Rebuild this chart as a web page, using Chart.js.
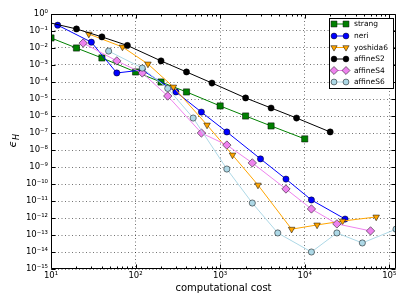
<!DOCTYPE html>
<html><head><meta charset="utf-8">
<script src="https://cdn.jsdelivr.net/npm/chart.js@4/dist/chart.umd.min.js"></script>
<style>html,body{margin:0;padding:0;background:#fff;}#wrap{width:407px;height:305px;}</style>
</head><body><div id="wrap"><canvas id="c" width="407" height="305"></canvas></div>
<script>
// ---- data ----
const strangCost = [10, 20, 40, 100, 200, 400, 1000, 2000, 4000, 10000];
const strangErr  = [3.9e-2, 1.0e-2, 2.6e-3, 3.9e-4, 1.0e-4, 2.6e-5, 3.9e-6, 1.0e-6, 2.6e-7, 4.5e-8];

const neriCost = [12, 30, 60, 120, 300, 600, 1200, 3000, 6000, 12000, 30000];
const neriErr  = [2.2e-1, 2.2e-2, 3.4e-4, 5.1e-4, 2.6e-5, 1.7e-6, 1.15e-7, 3.0e-9, 1.95e-10, 1.15e-11, 8.7e-13];

const yoshidaCost = [28, 70, 140, 280, 700, 1400, 2800, 7000, 14000, 28000, 70000];
const yoshidaErr  = [6.6e-2, 1.15e-2, 1.15e-3, 5.1e-5, 2.95e-7, 5.1e-9, 8.7e-11, 2.2e-13, 3.9e-13, 6.6e-13, 1.15e-12];

const affineS2Cost = [8, 20, 40, 80, 200, 400, 800, 2000, 4000, 8000, 20000];
const affineS2Err  = [3.8e-1, 1.32e-1, 4.5e-2, 1.41e-2, 1.74e-3, 3.9e-4, 8.7e-5, 1.15e-5, 2.95e-6, 7.6e-7, 1.15e-7];

const affineS4Cost = [24, 60, 120, 240, 600, 1200, 2400, 6000, 12000, 24000, 60000];
const affineS4Err  = [1.95e-2, 1.74e-3, 3.4e-4, 1.5e-5, 1.0e-7, 1.95e-8, 1.74e-9, 5.1e-11, 3.4e-12, 4.5e-13, 1.74e-13];

const affineS6Cost = [48, 120, 240, 480, 1200, 2400, 4800, 12000, 24000, 48000, 120000];
const affineS6Err  = [6.6e-3, 6.6e-4, 4.2e-5, 7.6e-7, 7.6e-10, 7.6e-12, 1.32e-13, 1.0e-14, 1.32e-13, 3.4e-14, 2.2e-13];

const seriesNames = ['strang', 'neri', 'yoshida6', 'affineS2', 'affineS4', 'affineS6'];

const xTickValues = [10, 100, 1000, 10000, 100000];
const xTickLabels = ['10¹', '10²', '10³', '10⁴', '10⁵'];
const yTickValues = [1, 1e-1, 1e-2, 1e-3, 1e-4, 1e-5, 1e-6, 1e-7, 1e-8, 1e-9, 1e-10, 1e-11, 1e-12, 1e-13, 1e-14, 1e-15];
const yTickLabels = ['10⁰', '10⁻¹', '10⁻²', '10⁻³', '10⁻⁴', '10⁻⁵', '10⁻⁶', '10⁻⁷', '10⁻⁸', '10⁻⁹', '10⁻¹⁰', '10⁻¹¹', '10⁻¹²', '10⁻¹³', '10⁻¹⁴', '10⁻¹⁵'];
const xAxisTitle = 'computational cost';

// ---- styling ----
const FONT = 'DejaVu Sans';
const styles = [
  {color: '#008000', pointStyle: 'rect',     radius: 4.4, rotation: 0},
  {color: '#0000FF', pointStyle: 'circle',   radius: 3.1, rotation: 0},
  {color: '#FFA500', pointStyle: 'triangle', radius: 3.8, rotation: 180},
  {color: '#000000', pointStyle: 'circle',   radius: 3.1, rotation: 0},
  {color: '#EE82EE', pointStyle: 'rectRot',  radius: 4.2, rotation: 0},
  {color: '#ADD8E6', pointStyle: 'circle',   radius: 3.1, rotation: 0}
];
const costs = [strangCost, neriCost, yoshidaCost, affineS2Cost, affineS4Cost, affineS6Cost];
const errs  = [strangErr, neriErr, yoshidaErr, affineS2Err, affineS4Err, affineS6Err];

const datasets = seriesNames.map((name, i) => ({
  label: name,
  data: costs[i].map((c, j) => ({x: c, y: errs[i][j]})),
  borderColor: styles[i].color,
  backgroundColor: styles[i].color,
  borderWidth: 1,
  pointStyle: styles[i].pointStyle,
  pointRadius: styles[i].radius,
  pointRotation: styles[i].rotation,
  pointBackgroundColor: styles[i].color,
  pointBorderColor: '#000',
  pointBorderWidth: 0.5,
  tension: 0,
  order: seriesNames.length - i
}));

// minor tick positions on x (2..9 x 10^n)
const xMinor = [];
for (let e = 1; e <= 5; e++) for (let m = 2; m <= 9; m++) {
  const v = m * Math.pow(10, e);
  if (v <= 120000) xMinor.push(v);
}

const framePlugin = {
  id: 'frame',
  afterDatasetsDraw(chart) {
    const {ctx, chartArea: a, scales: {x, y}} = chart;
    ctx.save();
    ctx.strokeStyle = '#000';
    ctx.lineWidth = 1;
    const L = Math.round(a.left) + 0.5, R = Math.round(a.right) - 0.5;
    const T = Math.round(a.top) + 0.5, B = Math.round(a.bottom) - 0.5;
    ctx.beginPath();
    ctx.rect(L, T, R - L, B - T);
    ctx.stroke();
    ctx.beginPath();
    xTickValues.forEach(v => {
      const px = Math.round(x.getPixelForValue(v)) + 0.5;
      if (px < L || px > R + 1) return;
      ctx.moveTo(px, B); ctx.lineTo(px, B - 4);
      ctx.moveTo(px, T); ctx.lineTo(px, T + 4);
    });
    xMinor.forEach(v => {
      const px = Math.round(x.getPixelForValue(v)) + 0.5;
      ctx.moveTo(px, B); ctx.lineTo(px, B - 2);
      ctx.moveTo(px, T); ctx.lineTo(px, T + 2);
    });
    yTickValues.forEach(v => {
      const py = Math.round(y.getPixelForValue(v)) + 0.5;
      ctx.moveTo(L, py); ctx.lineTo(L + 4, py);
      ctx.moveTo(R, py); ctx.lineTo(R - 4, py);
    });
    ctx.stroke();

    // y-axis title: epsilon with subscript H
    ctx.save();
    ctx.translate(13, 141);
    ctx.rotate(-Math.PI / 2);
    ctx.fillStyle = '#000';
    ctx.textBaseline = 'alphabetic';
    ctx.font = 'italic 11px "' + FONT + '"';
    const w1 = ctx.measureText('ϵ').width;
    ctx.font = 'italic 8px "' + FONT + '"';
    const w2 = ctx.measureText('H').width;
    const x0 = -(w1 + w2) / 2;
    ctx.font = 'italic 11px "' + FONT + '"';
    ctx.fillText('ϵ', x0, 3);
    ctx.font = 'italic 8px "' + FONT + '"';
    ctx.fillText('H', x0 + w1 + 0.5, 6);
    ctx.restore();

    // legend (matplotlib style, two markers per entry)
    const bx = 329.5, by = 18.5, bw = 64, bh = 70;
    ctx.fillStyle = '#fff';
    ctx.fillRect(bx, by, bw, bh);
    ctx.strokeStyle = '#000';
    ctx.lineWidth = 1;
    ctx.strokeRect(bx, by, bw, bh);
    const rows = [24, 36, 47.5, 59, 70.5, 82];
    seriesNames.forEach((name, i) => {
      const yy = rows[i];
      const st = styles[i];
      ctx.strokeStyle = st.color;
      ctx.lineWidth = 1;
      ctx.beginPath();
      ctx.moveTo(334, yy); ctx.lineTo(346, yy);
      ctx.stroke();
      ctx.fillStyle = st.color;
      ctx.strokeStyle = '#000';
      ctx.lineWidth = 0.5;
      [334, 346].forEach(px => {
        Chart.helpers.drawPoint(ctx, {pointStyle: st.pointStyle, radius: st.radius * 0.95, rotation: st.rotation, borderWidth: 0.5}, px, yy);
      });
      ctx.fillStyle = '#000';
      ctx.font = '7.5px "' + FONT + '"';
      ctx.textBaseline = 'middle';
      ctx.textAlign = 'left';
      ctx.fillText(name, 354, yy + 0.5);
    });
    ctx.restore();
  }
};

new Chart(document.getElementById('c'), {
  type: 'line',
  data: {datasets},
  plugins: [framePlugin],
  options: {
    responsive: false,
    animation: false,
    devicePixelRatio: 1,
    layout: {padding: {left: 0, right: 11, top: 14, bottom: 0}},
    plugins: {legend: {display: false}, tooltip: {enabled: false}},
    scales: {
      x: {
        type: 'logarithmic',
        min: 10, max: 120000,
        afterBuildTicks: s => { s.ticks = xTickValues.map(v => ({value: v})); },
        afterFit: s => { s.height = 36; },
        ticks: {
          callback: (v) => { const k = xTickValues.indexOf(v); return k >= 0 ? xTickLabels[k] : ''; },
          font: {family: FONT, size: 8.5}, color: '#000', padding: 2,
          maxRotation: 0, autoSkip: false
        },
        grid: {color: 'rgba(0,0,0,0.55)', lineWidth: 1, drawTicks: false},
        border: {display: false, dash: [1, 2.5]},
        title: {display: true, text: xAxisTitle, font: {family: FONT, size: 10}, color: '#000', padding: {top: 0, bottom: 11}}
      },
      y: {
        type: 'logarithmic',
        min: 1e-15, max: 1,
        afterBuildTicks: s => { s.ticks = yTickValues.map(v => ({value: v})); },
        afterFit: s => { s.width = 51; },
        ticks: {
          callback: (v) => { const k = yTickValues.findIndex(t => Math.abs(Math.log10(t) - Math.log10(v)) < 1e-6); return k >= 0 ? yTickLabels[k] : ''; },
          font: {family: FONT, size: 8.5}, color: '#000', padding: 3, autoSkip: false
        },
        grid: {color: 'rgba(0,0,0,0.55)', lineWidth: 1, drawTicks: false},
        border: {display: false, dash: [1, 2.5]}
      }
    }
  }
});
</script>
</body></html>
